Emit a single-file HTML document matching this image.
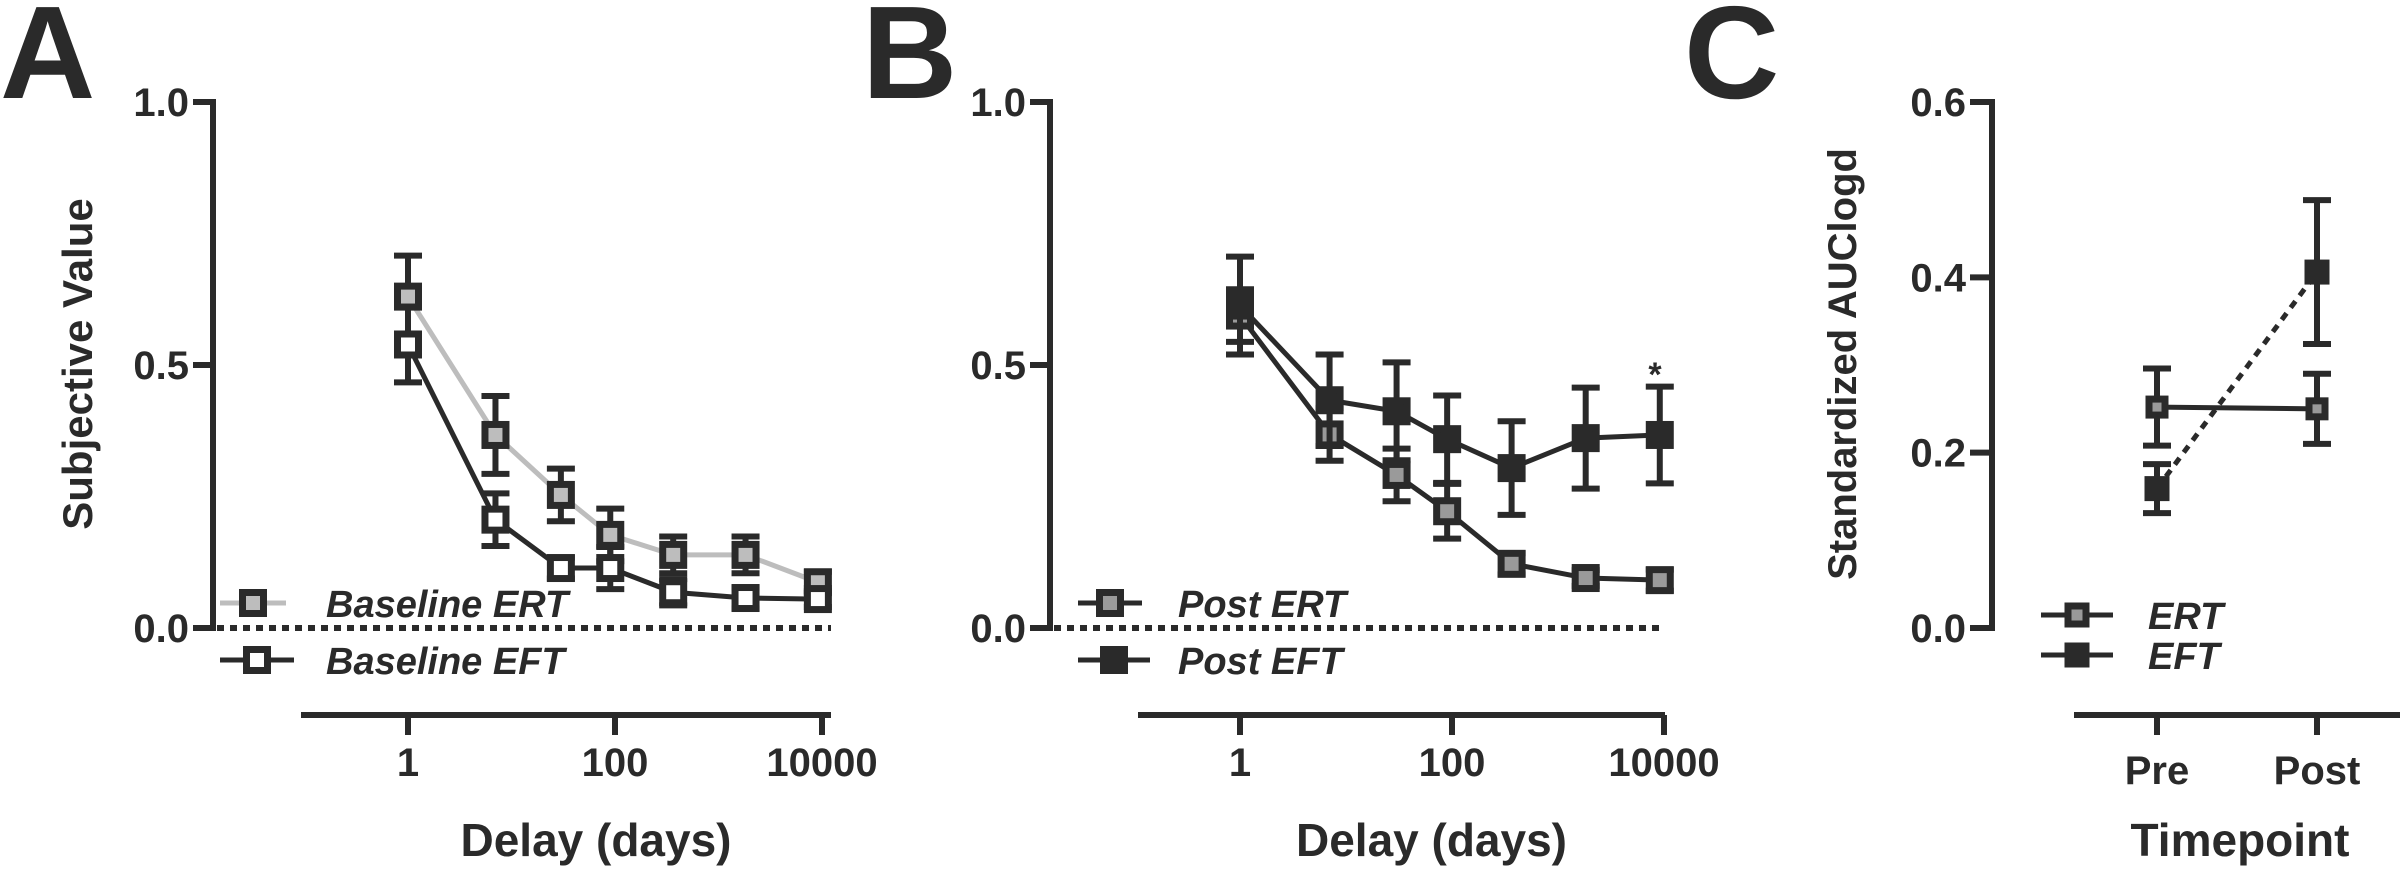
<!DOCTYPE html>
<html><head><meta charset="utf-8">
<style>
html,body{margin:0;padding:0;background:#fff;}
svg{display:block;}
text{font-family:"Liberation Sans",Arial,sans-serif;font-weight:bold;fill:#2a2a2a;}
</style></head>
<body>
<svg id="fig" width="2400" height="872" viewBox="0 0 2400 872" xmlns="http://www.w3.org/2000/svg">
<text x="0" y="98" font-size="132">A</text>
<text x="862" y="98" font-size="132">B</text>
<text x="1684" y="98" font-size="132">C</text>
<g id="gA"></g>
<g id="gB"></g>
<g id="gC"></g>
</svg>
<script>
// ---- data ----
const delays = [1, 7, 30, 90, 365, 1825, 9125];
const aErtMean = [0.63, 0.367, 0.253, 0.177, 0.139, 0.139, 0.087];
const aErtErr  = [0.078, 0.074, 0.05, 0.05, 0.035, 0.035, 0.02];
const aEftMean = [0.539, 0.206, 0.114, 0.114, 0.068, 0.057, 0.055];
const aEftErr  = [0.072, 0.05, 0.02, 0.04, 0.025, 0.02, 0.015];
const bErtMean = [0.594, 0.368, 0.291, 0.222, 0.122, 0.095, 0.091];
const bErtErr  = [0.05, 0.05, 0.05, 0.052, 0.02, 0.015, 0.02];
const bEftMean = [0.613, 0.433, 0.412, 0.359, 0.304, 0.361, 0.367];
const bEftErr  = [0.093, 0.087, 0.093, 0.083, 0.089, 0.096, 0.092];
const aYTicks = [0, 0.5, 1.0];
const aYTickLabels = ["0.0", "0.5", "1.0"];
const xTicks = [1, 100, 10000];
const xTickLabels = ["1", "100", "10000"];
const timepoints = ["Pre", "Post"];
const cErtMean = [0.252, 0.25];
const cErtErr  = [0.044, 0.04];
const cEftMean = [0.159, 0.406];
const cEftErr  = [0.028, 0.082];
const cYTicks = [0, 0.2, 0.4, 0.6];
const cYTickLabels = ["0.0", "0.2", "0.4", "0.6"];

const NS = "http://www.w3.org/2000/svg";
const DK = "#2a2a2a";
function mk(parent, tag, attrs, txt){
  const e = document.createElementNS(NS, tag);
  for (const k in attrs) e.setAttribute(k, attrs[k]);
  if (txt !== undefined) e.textContent = txt;
  parent.appendChild(e);
  return e;
}
const Y0 = 628, Y1 = 102;
function yA(v){ return Y0 - v * (Y0 - Y1) / 1.0; }
function yC(v){ return Y0 - v * (Y0 - Y1) / 0.6; }

function drawSeries(g, xs, means, errs, yf, opt, nm){
  const pts = xs.map((x,i)=>x+","+yf(means[i])).join(" ");
  const line = mk(g, "polyline", {points: pts, fill: "none", stroke: opt.line, "stroke-width": opt.lw || 5});
  if (opt.dash) line.setAttribute("stroke-dasharray", opt.dash);
  
  
  xs.forEach((x,i)=>{
    const yt = yf(means[i] + errs[i]), yb = yf(means[i] - errs[i]);
    const eb = mk(g, "path", {d: `M${x},${yt}V${yb}M${x-14},${yt}H${x+14}M${x-14},${yb}H${x+14}`, stroke: DK, "stroke-width": 6, fill: "none"});
    
    
    const s = opt.size || 27;
    const y = yf(means[i]);
    const r = mk(g, "rect", {x: x - s/2 + 3, y: y - s/2 + 3, width: s - 6, height: s - 6, fill: opt.fill, stroke: DK, "stroke-width": 7});
    
    
  });
}

function legend(g, x1, x2, y, fill, lineColor, label, tx, nm, s){
  s = s || 27;
  const l = mk(g, "line", {x1: x1, x2: x2, y1: y, y2: y, stroke: lineColor, "stroke-width": 5});
  
  
  const cx = (x1 + x2) / 2;
  const r = mk(g, "rect", {x: cx - s/2 + 3, y: y - s/2 + 3, width: s - 6, height: s - 6, fill: fill, stroke: DK, "stroke-width": 7});
  
  
  const t = mk(g, "text", {x: tx, y: y + 14, "font-size": 38, "font-style": "italic", fill: "#555"}, label);
  
  
}

function delayPanel(g, axX, x1, decade, xEnd, xStart, ert, ertE, eft, eftE, ertStyle, eftStyle, legLabels, legX, nm){
  const xf = d => x1 + Math.log10(d) * decade;
  // y axis
  const ya = mk(g, "path", {d: `M${axX-20},${Y1}H${axX}V${Y0}H${axX-20}M${axX-20},${yA(0.5)}H${axX}`, stroke: DK, "stroke-width": 6, fill: "none"});
  
  
  aYTicks.forEach((v,i)=>{
    const t = mk(g, "text", {x: axX - 24, y: yA(v) + 14, "font-size": 40, "text-anchor": "end"}, aYTickLabels[i]);
    
    
  });
  const zl = mk(g, "line", {x1: axX + 4, x2: xEnd, y1: Y0, y2: Y0, stroke: DK, "stroke-width": 6, "stroke-dasharray": "7 6"});
  
  
  // x axis
  const xa = mk(g, "line", {x1: xStart, x2: xEnd, y1: 715, y2: 715, stroke: DK, "stroke-width": 6});
  
  
  xTicks.forEach((v,i)=>{
    const tk = mk(g, "line", {x1: xf(v), x2: xf(v), y1: 715, y2: 735, stroke: DK, "stroke-width": 6});
    
    
    const t = mk(g, "text", {x: xf(v), y: 776, "font-size": 40, "text-anchor": "middle"}, xTickLabels[i]);
    
    
  });
  const xt = mk(g, "text", {x: (xStart + xEnd) / 2 + 30, y: 856, "font-size": 46, "text-anchor": "middle"}, "Delay (days)");
  
  
  const xs = delays.map(xf);
  drawSeries(g, xs, ert, ertE, yA, ertStyle, nm + '-ert');
  drawSeries(g, xs, eft, eftE, yA, eftStyle, nm + '-eft');
  legend(g, legX[0], legX[1], 603, ertStyle.fill, ertStyle.line, legLabels[0], legX[2], nm + '-ert');
  legend(g, legX[0], legX[1] + 8, 660, eftStyle.fill, DK, legLabels[1], legX[2], nm + '-eft');
}

const gA = document.getElementById("gA");
delayPanel(gA, 213, 408, 103.5, 831, 301, aErtMean, aErtErr, aEftMean, aEftErr,
  {fill: "#bdbdbd", line: "#bdbdbd"}, {fill: "#ffffff", line: DK},
  ["Baseline ERT", "Baseline EFT"], [220, 286, 326], "panel-a");
const yTitleA = mk(gA, "text", {x: 0, y: 0, "font-size": 42, "text-anchor": "middle", fill: "#444", transform: "translate(92,364) rotate(-90)"}, "Subjective Value");



const gB = document.getElementById("gB");
delayPanel(gB, 1050, 1240, 106, 1665, 1138, bErtMean, bErtErr, bEftMean, bEftErr,
  {fill: "#9a9a9a", line: DK}, {fill: DK, line: DK},
  ["Post ERT", "Post EFT"], [1078, 1142, 1178], "panel-b");
const star = mk(gB, "text", {x: 1655, y: 386, "font-size": 34, "text-anchor": "middle"}, "*");



// ---- panel C ----
const gC = document.getElementById("gC");
const axC = 1992;
let dC = `M${axC-22},${Y1}H${axC}V${Y0}H${axC-22}`;
cYTicks.forEach(v=>{ dC += `M${axC-22},${yC(v)}H${axC}`; });
const yaC = mk(gC, "path", {d: dC, stroke: DK, "stroke-width": 6, fill: "none"});


cYTicks.forEach((v,i)=>{
  const t = mk(gC, "text", {x: axC - 26, y: yC(v) + 14, "font-size": 40, "text-anchor": "end"}, cYTickLabels[i]);
  
  
});
const yTitleC = mk(gC, "text", {x: 0, y: 0, "font-size": 40, "text-anchor": "middle", fill: "#444", transform: "translate(1856,364) rotate(-90)"}, "Standardized AUClogd");


const xaC = mk(gC, "line", {x1: 2074, x2: 2400, y1: 715, y2: 715, stroke: DK, "stroke-width": 6});


const xfC = i => 2157 + i * 160;
timepoints.forEach((lab,i)=>{
  const tk = mk(gC, "line", {x1: xfC(i), x2: xfC(i), y1: 715, y2: 735, stroke: DK, "stroke-width": 6});
  
  
  const t = mk(gC, "text", {x: xfC(i), y: 784, "font-size": 40, "text-anchor": "middle"}, lab);
  
  
});
const xtC = mk(gC, "text", {x: 2240, y: 856, "font-size": 46, "text-anchor": "middle"}, "Timepoint");


const xsC = timepoints.map((_,i)=>xfC(i));
drawSeries(gC, xsC, cErtMean, cErtErr, yC, {fill: "#9a9a9a", line: DK, size: 22}, 'panel-c-ert');
drawSeries(gC, xsC, cEftMean, cEftErr, yC, {fill: DK, line: DK, dash: "8 7", size: 24}, 'panel-c-eft');
legend(gC, 2041, 2113, 615, "#9a9a9a", DK, "ERT", 2148, 'panel-c-ert', 24);
legend(gC, 2041, 2113, 655, DK, DK, "EFT", 2148, 'panel-c-eft', 24);
</script>
</body></html>
